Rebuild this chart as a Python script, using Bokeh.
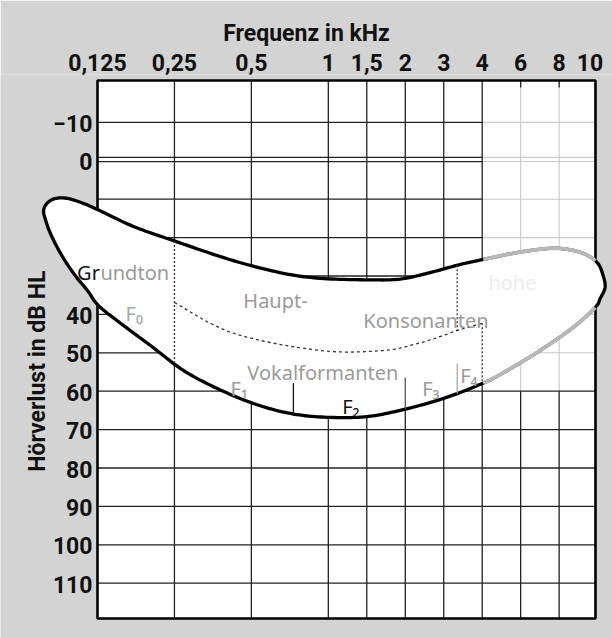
import numpy as np
from bokeh.plotting import figure
from bokeh.models import FixedTicker, Range1d, ColumnDataSource
from bokeh.core.properties import value
from bokeh.embed import file_html
from bokeh.resources import INLINE

# ---------------- data ----------------
# audiogram frequency grid (kHz) and its position on the grid (octave steps, half-octave lines)
GRID_KHZ = [0.125, 0.25, 0.5, 1, 1.5, 2, 3, 4, 6, 8]
GRID_POS = [0, 1, 2, 3, 3.5, 4, 4.5, 5, 5.5, 6]
TOP_LABELS = ["0,125", "0,25", "0,5", "1", "1,5", "2", "3", "4", "6", "8"]
EDGE_LABEL = "10"
EDGE_KHZ = 11.1            # right edge of the chart
DB_TICKS = [-10, 0, 10, 20, 30, 40, 50, 60, 70, 80, 90, 100, 110]
DB_LABELS = ["\u221210", "0", "", "", "", "40", "50", "60", "70", "80", "90", "100", "110"]
DB_TOP, DB_BOTTOM = -20.9, 119.2

# speech banana outline: upper edge (left tip -> right tip), lower edge (right tip -> left tip)
UPPER_KHZ = [0.0769, 0.0798, 0.0857, 0.0954, 0.1102, 0.125, 0.1729, 0.2478, 0.4251, 0.6671,
             0.9305, 1.505, 1.926, 2.603, 3.393, 4.042, 5.784, 7.205, 8.294, 9.931, 11.27, 11.88, 12.10]
UPPER_DB = [12.9, 10.9, 9.8, 9.8, 11.1, 12.7, 17.1, 20.8, 26.0, 29.3,
            30.6, 31.0, 30.8, 29.1, 27.0, 25.7, 23.9, 22.9, 22.9, 24.1, 26.5, 29.8, 33.0]
LOWER_KHZ = [11.57, 11.07, 9.076, 6.94, 5.206, 4.042, 2.985, 1.970, 1.505, 0.9917, 0.7101,
             0.5091, 0.3680, 0.2711, 0.2014, 0.1538, 0.1261, 0.1142, 0.1007, 0.0896, 0.0819, 0.0783]
LOWER_DB = [35.9, 38.2, 43.4, 49.4, 54.6, 57.9, 61.9, 64.8, 66.6, 66.8, 65.8,
            63.2, 59.3, 54.6, 48.1, 42.3, 37.7, 33.8, 29.3, 24.1, 19.0, 15.4]

# upper border of the main vowel formant zone (dashed)
VOWEL_KHZ = [0.25, 0.4251, 0.9305, 1.697, 2.27, 2.985, 3.342, 4.0]
VOWEL_DB = [36.9, 44.9, 49.4, 49.4, 47.6, 45.5, 44.1, 42.3]

FUND_KHZ = 0.25          # dotted divider fundamental / formants
CONS_KHZ = 3.318         # dotted divider to consonants
CONS2_KHZ = 4.0          # dotted divider below consonants
SPLIT_KHZ = [0.73, 2.0, 3.318]     # formant separators
SPLIT_TOP_DB = [57.9, 56.4, 52.8]
SPLIT_COLORS = ["#111111", "#555555", "#aaaaaa"]

# labels inside the banana: text, kHz (left edge), dB (baseline), colour
TEXT_STR = ["Gr", "undton", "F\u2080", "Haupt-", "Konsonanten", "Vokalformanten",
            "F\u2081", "F\u2082", "F\u2083", "F\u2084", "hohe"]
TEXT_KHZ = [0.104, 0.1283, 0.161, 0.465, 1.446, 0.482, 0.414, 1.157, 2.39, 3.393, 4.27]
TEXT_DB = [29.0, 29.0, 39.8, 36.4, 41.6, 55.2, 59.3, 64.0, 59.3, 55.9, 31.6]
TEXT_COL = ["#111111", "#9a9a9a", "#a8a8a8", "#9a9a9a", "#9a9a9a", "#9a9a9a",
            "#9a9a9a", "#111111", "#9a9a9a", "#9a9a9a", "#ececec"]
Y_TITLE = "Hörverlust in dB HL"
Y_TITLE_KHZ, Y_TITLE_DB = 0.0728, 54.8


def xpos(f):
    f = np.asarray(f, dtype=float)
    lf = np.log2(f)
    lg = np.log2(GRID_KHZ)
    p = np.interp(lf, lg, GRID_POS)
    p = np.where(lf < lg[0], lf - lg[0], p)
    p = np.where(lf > lg[-1], GRID_POS[-1] + (lf - lg[-1]), p)
    return p


def catmull(x, y, n=12, closed=False):
    P = np.column_stack([x, y]).astype(float)
    N = len(P)
    if not closed:
        P = np.vstack([P[0], P, P[-1]])
    out = []
    rng = range(N) if closed else range(1, N)
    for i in rng:
        if closed:
            p0, p1, p2, p3 = P[(i - 1) % N], P[i], P[(i + 1) % N], P[(i + 2) % N]
        else:
            p0, p1, p2, p3 = P[i - 1], P[i], P[i + 1], P[i + 2]
        t = np.linspace(0, 1, n, endpoint=False)[:, None]
        pts = 0.5 * ((2 * p1) + (-p0 + p2) * t + (2 * p0 - 5 * p1 + 4 * p2 - p3) * t ** 2
                     + (-p0 + 3 * p1 - 3 * p2 + p3) * t ** 3)
        out.append(pts)
    if not closed:
        out.append(P[-1][None, :])
    return np.vstack(out)


NS = 12
X0 = 0.0
X_END = float(xpos(EDGE_KHZ))
SPLIT_POS = float(xpos(4))

outline = catmull(np.concatenate([xpos(UPPER_KHZ), xpos(LOWER_KHZ)]),
                  np.concatenate([UPPER_DB, LOWER_DB]), n=NS, closed=True)
iw = (len(UPPER_KHZ) - 1) * NS
upper = outline[: iw + 1]
lower = np.vstack([outline[iw:], outline[:1]])
up_sorted = upper[np.argsort(upper[:, 0])]
lo_sorted = lower[np.argsort(lower[:, 0])]


def top_at(f):
    return float(np.interp(xpos(f), up_sorted[:, 0], up_sorted[:, 1]))


def bottom_at(f):
    return float(np.interp(xpos(f), lo_sorted[:, 0], lo_sorted[:, 1]))


vowel = catmull(xpos(VOWEL_KHZ), VOWEL_DB, n=12)


def vowel_at(f):
    return float(np.interp(xpos(f), vowel[:, 0], vowel[:, 1]))


# ---------------- figure ----------------
W, H = 612, 638
TOP = 74
PX_PER_UNIT = 76.94
PX_PER_DB = 3.84
LEFT_PX, DB0_PX = 97.0, 160.3
x_start = -LEFT_PX / PX_PER_UNIT
x_end = (W - LEFT_PX) / PX_PER_UNIT
y_top = (TOP - DB0_PX) / PX_PER_DB
y_bot = (H - DB0_PX) / PX_PER_DB

p = figure(width=W, height=H, frame_width=W, frame_height=H - TOP,
           x_range=Range1d(x_start, x_end), y_range=Range1d(y_bot, y_top),
           x_axis_location="above", y_axis_location=None,
           toolbar_location=None, output_backend="svg",
           min_border_left=0, min_border_right=0, min_border_top=TOP, min_border_bottom=0)
GREY = "#d3d3d3"
p.background_fill_color = GREY
p.border_fill_color = GREY
p.outline_line_color = None
p.xgrid.visible = False
p.ygrid.visible = False

FONT = "Roboto"
xa = p.xaxis[0]
xa.ticker = FixedTicker(ticks=list(GRID_POS) + [6.4])
xa.major_label_overrides = {**{float(k): v for k, v in zip(GRID_POS, TOP_LABELS)}, 6.4: EDGE_LABEL}
xa.axis_label = "Frequenz in kHz"
xa.axis_label_text_font = FONT
xa.axis_label_text_font_style = "bold"
xa.axis_label_text_font_size = "23px"
xa.axis_label_text_color = "#111111"
xa.axis_label_standoff = 4
xa.major_label_text_font = FONT
xa.major_label_text_font_style = "bold"
xa.major_label_text_font_size = "23px"
xa.major_label_text_color = "#111111"
xa.axis_line_color = None
xa.major_tick_line_color = None
xa.minor_tick_line_color = None
xa.major_tick_out = 0
xa.major_tick_in = 0
xa.major_label_standoff = 4

# plot area
p.quad(left=[X0], right=[X_END], bottom=[DB_BOTTOM], top=[DB_TOP], fill_color="white", line_color=None)

# ---------------- grid ----------------
dark = dict(x0=[], y0=[], x1=[], y1=[])
light = dict(x0=[], y0=[], x1=[], y1=[])


def add(d, a, b, c, e):
    d["x0"].append(a); d["y0"].append(b); d["x1"].append(c); d["y1"].append(e)


for v in GRID_POS[1:]:
    if v <= SPLIT_POS:
        add(dark, v, DB_BOTTOM, v, DB_TOP)
    else:
        add(dark, v, DB_BOTTOM, v, 60)
        add(light, v, 60, v, DB_TOP)
        add(dark, v, DB_TOP, v, DB_TOP + 1.8)
for d in DB_TICKS:
    rows = [d] if d != 0 else [-0.9, 0.2]
    for r in rows:
        if d <= 50:
            add(dark, X0, r, SPLIT_POS, r)
            add(light, SPLIT_POS, r, X_END, r)
        else:
            add(dark, X0, r, X_END, r)

p.segment("x0", "y0", "x1", "y1", source=ColumnDataSource(light), line_color="#c8c8c8", line_width=1.1)
p.segment("x0", "y0", "x1", "y1", source=ColumnDataSource(dark), line_color="#222222", line_width=1.3)
# plot border
p.quad(left=[X0], right=[X_END], bottom=[DB_BOTTOM], top=[DB_TOP], fill_color=None,
       line_color="black", line_width=2.6)

# y tick labels and title
p.text(x=[X0 - 5 / PX_PER_UNIT] * len(DB_TICKS), y=[d + 0.3 for d in DB_TICKS], text=DB_LABELS,
       text_font=value(FONT), text_font_style="bold", text_font_size="23px", text_color="#111111",
       text_align="right", text_baseline="middle")
p.text(x=[float(xpos(Y_TITLE_KHZ))], y=[Y_TITLE_DB], text=[Y_TITLE], angle=np.pi / 2,
       text_font=value(FONT), text_font_style="bold", text_font_size="23px", text_color="#111111",
       text_align="center", text_baseline="middle")

# ---------------- banana ----------------
p.patch(outline[:, 0], outline[:, 1], fill_color="white", line_color="black", line_width=3.3,
        line_join="round")

# grey right part of the outline (inside the plot area only)
m = (upper[:, 0] >= SPLIT_POS) & (upper[:, 0] <= X_END)
p.line(upper[m, 0], upper[m, 1], line_color="#b8b8b8", line_width=3.8)
m = (lower[:, 0] >= SPLIT_POS) & (lower[:, 0] <= X_END)
p.line(lower[m, 0], lower[m, 1], line_color="#b8b8b8", line_width=3.8)

# dashed / dotted dividers
p.line(vowel[:, 0], vowel[:, 1], line_color="#333333", line_width=1.3, line_dash="3 3")
vx, vy0, vy1 = [], [], []
for f, a, b in [(FUND_KHZ, top_at(FUND_KHZ), bottom_at(FUND_KHZ)),
                (CONS_KHZ, top_at(CONS_KHZ), vowel_at(CONS_KHZ)),
                (CONS2_KHZ, vowel_at(CONS2_KHZ), bottom_at(CONS2_KHZ))]:
    vx.append(float(xpos(f))); vy0.append(a); vy1.append(b)
p.segment(vx, vy0, vx, vy1, line_color="#333333", line_width=1.3, line_dash="2 2")

sx = [float(xpos(f)) for f in SPLIT_KHZ]
sy1 = [bottom_at(f) for f in SPLIT_KHZ]
p.segment(sx, SPLIT_TOP_DB, sx, sy1, line_color=SPLIT_COLORS, line_width=1.3)

# texts in the banana
p.text(x=[float(v) for v in xpos(TEXT_KHZ)], y=TEXT_DB, text=TEXT_STR, text_color=TEXT_COL,
       text_font=value("Noto Sans"), text_font_size="20px", text_align="left",
       text_baseline="alphabetic")

open("out.html", "w").write(file_html(p, INLINE))
